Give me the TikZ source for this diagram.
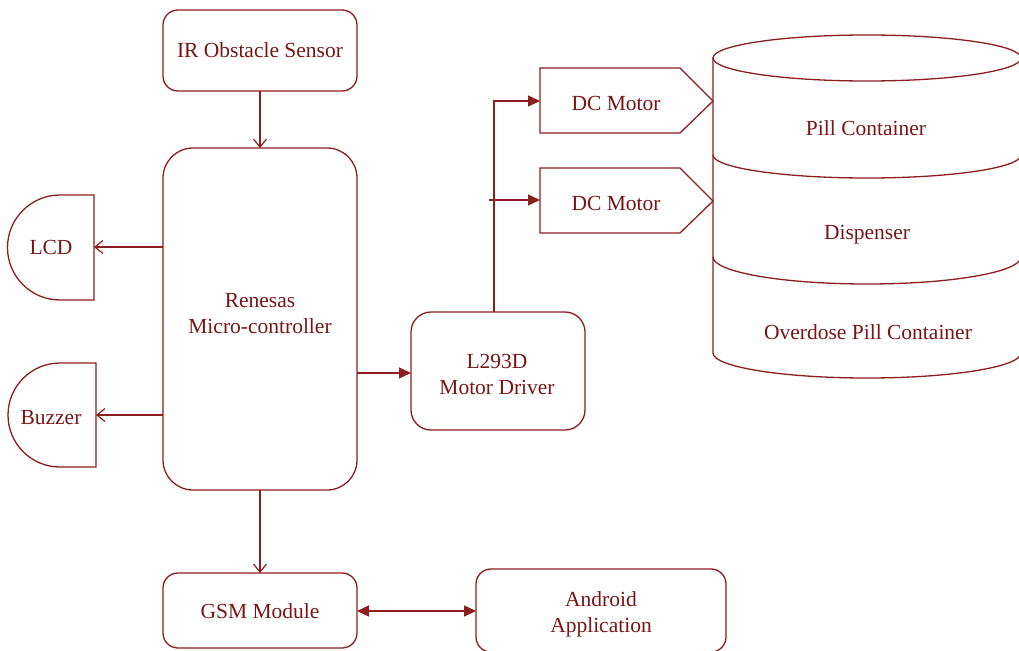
\documentclass[tikz,border=0pt]{standalone}
\usepackage{fontspec}
\setmainfont{Liberation Serif}
\usetikzlibrary{arrows.meta}
\definecolor{lc}{RGB}{140,30,30}
\definecolor{tc}{RGB}{120,22,22}
\begin{document}
\begin{tikzpicture}[x=1pt,y=1pt,
  every node/.style={text=tc,font=\fontsize{21.5}{26}\selectfont,align=center,inner sep=0pt},
  line/.style={draw=lc,line width=1.3pt},
  rbox/.style={line,rounded corners=#1,fill=white},
  rbox/.default=15pt,
  open/.style={line,-{Straight Barb[length=8pt,width=13pt,line width=1.2pt]}},
  solid/.style={line,-{Triangle[length=12pt,width=11pt]}},
  both/.style={line,{Triangle[length=12pt,width=11pt]}-{Triangle[length=12pt,width=11pt]}}]
\useasboundingbox (0,0) rectangle (1019,-650);
\clip (0,0) rectangle (1019,-650);
\fill[white] (0,0) rectangle (1019,-650);

% boxes
\draw[rbox] (163,-10) rectangle (357,-91);
\node (ir) at (260,-50.5) {IR Obstacle Sensor};
\draw[rbox=30pt] (163,-148) rectangle (357,-490);
\node (mcu) at (260,-314) {Renesas\\Micro-controller};
\draw[rbox] (163,-573) rectangle (357,-648);
\node (gsm) at (260,-611) {GSM Module};
\draw[rbox] (476,-569) rectangle (726,-652);
\node (and) at (601,-614) {Android\\Application};
\draw[rbox=20pt] (411,-312) rectangle (585,-430);
\node (drv) at (497,-374) {L293D\\Motor Driver};

% LCD and buzzer
\draw[line,fill=white] (94,-195) -- (60,-195) arc[start angle=90,end angle=270,radius=52.5] -- (94,-300) -- cycle;
\node (lcd) at (51,-247) {LCD};
\draw[line,fill=white] (96,-363) -- (60,-363) arc[start angle=90,end angle=270,radius=52] -- (96,-467) -- cycle;
\node (buz) at (51,-418) {Buzzer};

% DC motors
\draw[line,fill=white] (540,-68) -- (680,-68) -- (713,-101) -- (680,-133) -- (540,-133) -- cycle;
\node (m1) at (616,-103) {DC Motor};
\draw[line,fill=white] (540,-168) -- (680,-168) -- (713,-201) -- (680,-233) -- (540,-233) -- cycle;
\node (m2) at (616,-203) {DC Motor};

% cylinder
\draw[line] (713,-58) -- (713,-353) arc[start angle=180,end angle=360,x radius=154,y radius=25] -- (1021,-58);
\draw[line,fill=white] (867,-58) ellipse[x radius=154,y radius=23];
\draw[line] (713,-155) arc[start angle=180,end angle=360,x radius=154,y radius=23];
\draw[line] (713,-257) arc[start angle=180,end angle=360,x radius=154,y radius=27];
\node (pill) at (866,-128) {Pill Container};
\node (disp) at (867,-235) {Dispenser};
\node (over) at (868,-332) {Overdose Pill Container};

% anchor coordinates
\coordinate (irS) at (260,-91);
\coordinate (mcuN) at (260,-148);
\coordinate (mcuS) at (260,-490);
\coordinate (gsmN) at (260,-573);
\coordinate (mcuW1) at (163,-247);
\coordinate (lcdE) at (94,-247);
\coordinate (mcuW2) at (163,-415);
\coordinate (buzE) at (96,-415);
\coordinate (mcuE) at (357,-373);
\coordinate (drvW) at (411,-373);
\coordinate (drvN) at (494,-312);
\coordinate (m1W) at (540,-101);
\coordinate (br) at (489,-200);
\coordinate (m2W) at (540,-200);
\coordinate (gsmE) at (357,-611);
\coordinate (andW) at (476,-611);

% connectors
\draw[open] (irS) -- (mcuN);
\draw[open] (mcuW1) -- (lcdE);
\draw[open] (mcuW2) -- (buzE);
\draw[open] (mcuS) -- (gsmN);
\draw[solid] (mcuE) -- (drvW);
\draw[solid] (drvN) |- (m1W);
\draw[solid] (br) -- (m2W);
\draw[both] (gsmE) -- (andW);
\end{tikzpicture}
\end{document}
